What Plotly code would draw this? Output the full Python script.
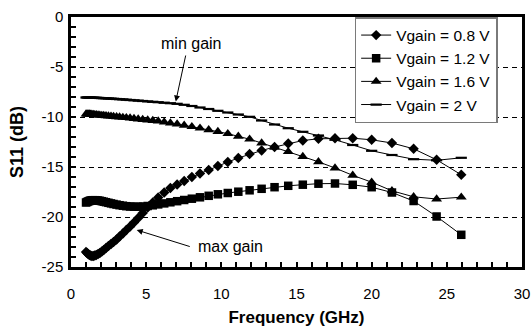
import plotly.graph_objects as go

# Frequency points (GHz)
freq_ghz = [1.00, 1.07, 1.14, 1.22, 1.30, 1.39, 1.48, 1.58, 1.68, 1.80,
            1.92, 2.05, 2.18, 2.33, 2.49, 2.66, 2.83, 3.03, 3.23, 3.45,
            3.68, 3.93, 4.19, 4.47, 4.77, 5.10, 5.44, 5.80, 6.20, 6.61,
            7.06, 7.53, 8.04, 8.58, 9.16, 9.77, 10.43, 11.13, 11.88, 12.68,
            13.54, 14.45, 15.42, 16.46, 17.56, 18.74, 20.00, 21.35, 22.79, 24.32,
            25.96]

# S11 (dB) per gain control voltage
s11_v08 = [-23.5, -23.6, -23.7, -23.8, -23.85, -23.9, -23.9, -23.85, -23.8, -23.7,
           -23.6, -23.45, -23.3, -23.1, -22.9, -22.7, -22.5, -22.25, -21.95, -21.65,
           -21.3, -20.95, -20.55, -20.1, -19.6, -19.05, -18.55, -18.05, -17.55, -17.1,
           -16.75, -16.4, -16.0, -15.65, -15.3, -14.9, -14.5, -14.1, -13.7, -13.35,
           -13.0, -12.65, -12.35, -12.18, -12.12, -12.12, -12.28, -12.6, -13.18, -14.28,
           -15.78]
s11_v12 = [-18.55, -18.5, -18.45, -18.4, -18.35, -18.33, -18.32, -18.32, -18.33, -18.35,
           -18.38, -18.42, -18.47, -18.52, -18.58, -18.64, -18.7, -18.76, -18.82, -18.87,
           -18.92, -18.95, -18.97, -18.97, -18.95, -18.9, -18.83, -18.74, -18.64, -18.53,
           -18.42, -18.3, -18.17, -18.03, -17.88, -17.73, -17.6, -17.47, -17.33, -17.18,
           -17.02, -16.88, -16.77, -16.67, -16.65, -16.78, -17.02, -17.55, -18.4, -19.95,
           -21.78]
s11_v16 = [-9.7, -9.7, -9.7, -9.7, -9.72, -9.73, -9.75, -9.77, -9.78, -9.8,
           -9.82, -9.84, -9.86, -9.88, -9.9, -9.92, -9.95, -9.98, -10.0, -10.04,
           -10.07, -10.11, -10.15, -10.2, -10.25, -10.3, -10.35, -10.41, -10.5, -10.6,
           -10.71, -10.83, -10.97, -11.12, -11.28, -11.46, -11.67, -11.93, -12.22, -12.6,
           -13.03, -13.47, -13.95, -14.48, -15.1, -15.83, -16.52, -17.38, -17.98, -18.2,
           -18.02]
s11_v20 = [-8.05, -8.05, -8.05, -8.06, -8.06, -8.07, -8.07, -8.08, -8.08, -8.09,
           -8.1, -8.11, -8.12, -8.13, -8.15, -8.16, -8.18, -8.2, -8.22, -8.24,
           -8.27, -8.3, -8.33, -8.36, -8.4, -8.44, -8.48, -8.52, -8.57, -8.62,
           -8.68, -8.78, -8.9, -9.05, -9.2, -9.38, -9.55, -9.75, -9.98, -10.35,
           -10.75, -11.12, -11.48, -11.85, -12.28, -12.8, -13.38, -13.8, -14.22, -14.33,
           -14.08]

series_names = ["Vgain = 0.8 V", "Vgain = 1.2 V", "Vgain = 1.6 V", "Vgain = 2 V"]
series_values = [s11_v08, s11_v12, s11_v16, s11_v20]
series_symbols = ["diamond", "square", "triangle-up", "line-ew"]
series_sizes = [8, 8.5, 9.5, 8]

x_ticks = [0, 5, 10, 15, 20, 25, 30]
y_ticks = [-25, -20, -15, -10, -5, 0]

FONT = "Liberation Sans, Arial, Helvetica, sans-serif"

fig = go.Figure()
for name, vals, sym, sz in zip(series_names, series_values, series_symbols, series_sizes):
    if sym == "line-ew":
        marker = dict(symbol=sym, size=sz, color="black", line=dict(color="black", width=2.2))
    else:
        marker = dict(symbol=sym, size=sz, color="black", line=dict(width=0))
    fig.add_trace(go.Scatter(
        x=freq_ghz, y=vals, name=name, mode="lines+markers",
        line=dict(color="black", width=1), marker=marker,
    ))

fig.add_annotation(x=7.95, y=-2.6, xref="x", yref="y", text="min gain", showarrow=False,
                   font=dict(family=FONT, size=16, color="black"))
fig.add_annotation(x=6.97, y=-8.45, ax=7.65, ay=-3.7, xref="x", yref="y", axref="x", ayref="y",
                   text="", showarrow=True, arrowhead=2, arrowsize=1.2, arrowwidth=1,
                   arrowcolor="black", standoff=0, startstandoff=0)
fig.add_annotation(x=10.6, y=-22.95, xref="x", yref="y", text="max gain", showarrow=False,
                   font=dict(family=FONT, size=16, color="black"))
fig.add_annotation(x=4.37, y=-21.3, ax=8.0, ay=-23.0, xref="x", yref="y", axref="x", ayref="y",
                   text="", showarrow=True, arrowhead=2, arrowsize=1.2, arrowwidth=1,
                   arrowcolor="black", standoff=0, startstandoff=0)

fig.update_layout(
    width=531, height=331,
    margin=dict(l=71, r=9.3, t=16.5, b=64.3, autoexpand=False),
    paper_bgcolor="white", plot_bgcolor="white",
    font=dict(family=FONT, size=14, color="black"),
    showlegend=True,
    legend=dict(x=0.946, y=1.0, xanchor="right", yanchor="top",
                bgcolor="white", bordercolor="#7a7a7a", borderwidth=1.5,
                font=dict(family=FONT, size=15.5, color="black"),
                itemwidth=30, tracegroupgap=0),
)
fig.update_xaxes(
    range=[0, 30], tickvals=x_ticks, ticktext=[str(v) for v in x_ticks],
    showline=True, linecolor="black", linewidth=2.5, mirror=True,
    ticks="inside", ticklen=5, tickwidth=1.5, tickcolor="black",
    minor=dict(dtick=1, ticks="inside", ticklen=5, tickwidth=1.5, tickcolor="black", showgrid=False),
    showgrid=False, zeroline=False,
    tickfont=dict(family=FONT, size=15, color="black"), ticklabelstandoff=11,
    title=dict(text="<b>Frequency (GHz)</b>", font=dict(family=FONT, size=17, color="black"), standoff=11),
    automargin=False,
)
fig.update_yaxes(
    range=[-25, 0], tickvals=y_ticks, ticktext=[str(v) for v in y_ticks],
    showline=True, linecolor="black", linewidth=2.5, mirror=True,
    ticks="inside", ticklen=5, tickwidth=1.5, tickcolor="black",
    minor=dict(dtick=1, ticks="inside", ticklen=5, tickwidth=1.5, tickcolor="black", showgrid=False),
    showgrid=True, gridcolor="black", gridwidth=1, griddash="5px,4px", zeroline=False,
    tickfont=dict(family=FONT, size=15, color="black"), ticklabelstandoff=2,
    title=dict(text="<b>S11 (dB)</b>", font=dict(family=FONT, size=18, color="black"), standoff=14),
    automargin=False,
)

# Remove the page's default body margin so the 531x331 figure fills the window exactly.
fig.write_html("out.html",
               config={"displayModeBar": False},
               post_script="document.body.style.margin='0';document.body.style.overflow='hidden';")
